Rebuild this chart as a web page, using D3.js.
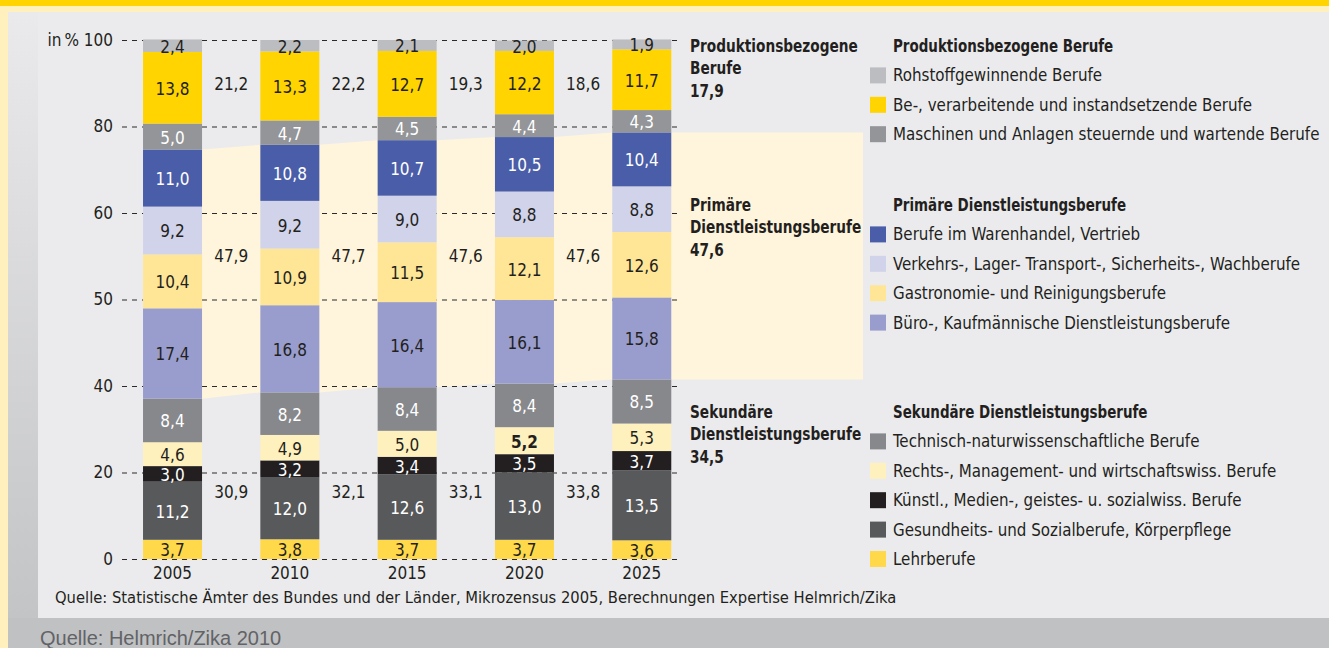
<!DOCTYPE html>
<html>
<head>
<meta charset="utf-8">
<script src="https://cdn.jsdelivr.net/npm/d3@7"></script>
<style>
  html, body { margin: 0; padding: 0; background: #fff; }
  svg { display: block; }
  text { font-family: "Liberation Sans Narrow", "DejaVu Sans Condensed", "Arial Narrow", sans-serif; fill: #231F20; }
</style>
</head>
<body>
<svg id="chart" width="1329" height="648"></svg>
<script>
// ---------------- DATA ----------------
const years = ["2005", "2010", "2015", "2020", "2025"];

// series, bottom to top of each bar
const seriesNames = [
  "Lehrberufe",
  "Gesundheits- und Sozialberufe, Körperpflege",
  "Künstl., Medien-, geistes- u. sozialwiss. Berufe",
  "Rechts-, Management- und wirtschaftswiss. Berufe",
  "Technisch-naturwissenschaftliche Berufe",
  "Büro-, Kaufmännische Dienstleistungsberufe",
  "Gastronomie- und Reinigungsberufe",
  "Verkehrs-, Lager- Transport-, Sicherheits-, Wachberufe",
  "Berufe im Warenhandel, Vertrieb",
  "Maschinen und Anlagen steuernde und wartende Berufe",
  "Be-, verarbeitende und instandsetzende Berufe",
  "Rohstoffgewinnende Berufe"
];
const seriesGroup = ["sek","sek","sek","sek","sek","prim","prim","prim","prim","prod","prod","prod"];
const seriesColors = ["#FFD94A","#58595B","#231F20","#FFF1BE","#87888C","#999DCD","#FFE697","#D0D3EA","#4A5DA8","#939598","#FFD400","#BCBDC0"];
const seriesTextColors = ["#231F20","#fff","#fff","#231F20","#fff","#231F20","#231F20","#231F20","#fff","#fff","#231F20","#231F20"];

const lehr        = [3.7, 3.8, 3.7, 3.7, 3.6];
const gesundheit  = [11.2, 12.0, 12.6, 13.0, 13.5];
const kuenstl     = [3.0, 3.2, 3.4, 3.5, 3.7];
const rechts      = [4.6, 4.9, 5.0, 5.2, 5.3];
const technisch   = [8.4, 8.2, 8.4, 8.4, 8.5];
const buero       = [17.4, 16.8, 16.4, 16.1, 15.8];
const gastro      = [10.4, 10.9, 11.5, 12.1, 12.6];
const verkehr     = [9.2, 9.2, 9.0, 8.8, 8.8];
const warenhandel = [11.0, 10.8, 10.7, 10.5, 10.4];
const maschinen   = [5.0, 4.7, 4.5, 4.4, 4.3];
const verarbeit   = [13.8, 13.3, 12.7, 12.2, 11.7];
const rohstoff    = [2.4, 2.2, 2.1, 2.0, 1.9];

// group totals as printed in the chart
const prodTotals = ["21,2", "22,2", "19,3", "18,6", "17,9"];
const primTotals = ["47,9", "47,7", "47,6", "47,6", "47,6"];
const sekTotals  = ["30,9", "32,1", "33,1", "33,8", "34,5"];

// tick labels (printed evenly spaced in the original)
const yTicks = [0, 20, 40, 50, 60, 80, 100];

const groupTitles = {
  prod: ["Produktionsbezogene", "Berufe"],
  prim: ["Primäre", "Dienstleistungsberufe"],
  sek:  ["Sekundäre", "Dienstleistungsberufe"]
};
const legendHeaders = {
  prod: "Produktionsbezogene Berufe",
  prim: "Primäre Dienstleistungsberufe",
  sek:  "Sekundäre Dienstleistungsberufe"
};
const sourceText = "Quelle: Statistische Ämter des Bundes und der Länder, Mikrozensus 2005, Berechnungen Expertise Helmrich/Zika";
const footerText = "Quelle: Helmrich/Zika 2010";

// ---------------- BUILD ----------------
const seriesValues = [lehr, gesundheit, kuenstl, rechts, technisch, buero, gastro, verkehr, warenhandel, maschinen, verarbeit, rohstoff];
const table = years.map((y, i) => {
  const row = { year: y };
  seriesNames.forEach((s, k) => row[s] = seriesValues[k][i]);
  return row;
});
const stacked = d3.stack().keys(seriesNames)(table);

const svg = d3.select("#chart");
const W = 1329, H = 648;

// background frame
const defs = svg.append("defs");
const grad = defs.append("linearGradient").attr("id", "leftGrad").attr("x1", 0).attr("y1", 0).attr("x2", 0).attr("y2", 1);
grad.append("stop").attr("offset", "0%").attr("stop-color", "#EAEAEC");
grad.append("stop").attr("offset", "100%").attr("stop-color", "#C3C4C6");

svg.append("rect").attr("x", 0).attr("y", 0).attr("width", W).attr("height", H).attr("fill", "#FFF0BE");
svg.append("rect").attr("x", 0).attr("y", 0).attr("width", W).attr("height", 6).attr("fill", "#FFD400");
svg.append("rect").attr("x", 8).attr("y", 12).attr("width", W - 8).attr("height", H - 12).attr("fill", "#C0C1C3");
svg.append("rect").attr("x", 8).attr("y", 12).attr("width", 30).attr("height", 606).attr("fill", "url(#leftGrad)");
svg.append("rect").attr("x", 38).attr("y", 12).attr("width", W - 38).attr("height", 606).attr("fill", "#EBEBED");

// scales
const x = d3.scaleBand().domain(years).range([113.7, 700.6]).paddingInner(0.497).paddingOuter(0.25);
const y = d3.scaleLinear().domain([0, 100]).range([559, 40]);
const yTickPos = d3.scalePoint().domain(yTicks).range([559, 40]);
const bw = x.bandwidth();

// primary band polygon (behind bars)
const sekTop = stacked[4];   // top of secondary group
const primTop = stacked[8];  // top of primary group
const bandRight = 863;
const topPts = [], botPts = [];
years.forEach((yr, i) => {
  const x0 = x(yr), x1 = x(yr) + bw;
  if (i > 0) { topPts.push([x0, y(primTop[i][1])]); botPts.push([x0, y(sekTop[i][1])]); }
  topPts.push([x1, y(primTop[i][1])]); botPts.push([x1, y(sekTop[i][1])]);
});
topPts.push([bandRight, y(primTop[years.length - 1][1])]);
botPts.push([bandRight, y(sekTop[years.length - 1][1])]);
const bandPts = topPts.concat(botPts.reverse());
svg.append("path")
  .attr("d", d3.line()(bandPts) + "Z")
  .attr("fill", "#FFF5DC");

// y axis with dashed gridlines
const gridX0 = 122, gridX1 = 678;
const yAxis = svg.append("g")
  .attr("transform", `translate(${gridX0},0)`)
  .call(d3.axisLeft(yTickPos).tickSize(0).tickPadding(9)
    .tickFormat(d => d === 100 ? "in\u2009% 100" : String(d)));
yAxis.select(".domain").remove();
yAxis.selectAll(".tick line")
  .attr("x2", gridX1 - gridX0)
  .attr("stroke", "#2a2a2a")
  .attr("stroke-width", 1.1)
  .attr("stroke-dasharray", "5,5");
yAxis.selectAll(".tick text")
  .attr("font-size", 17)
  .attr("fill", "#231F20")
  .style("font-family", '"Liberation Sans Narrow", "DejaVu Sans Condensed", sans-serif');

// bars
const layers = svg.append("g").selectAll("g").data(stacked).join("g")
  .attr("fill", (d, k) => seriesColors[k]);
layers.selectAll("rect").data(d => d).join("rect")
  .attr("x", d => x(d.data.year))
  .attr("width", bw)
  .attr("y", d => y(d[1]))
  .attr("height", d => y(d[0]) - y(d[1]));

// segment labels
const fmt = v => v.toFixed(1).replace(".", ",");
stacked.forEach((layer, k) => {
  svg.append("g").selectAll("text").data(layer).join("text")
    .attr("x", d => x(d.data.year) + bw / 2)
    .attr("y", d => y((d[0] + d[1]) / 2) + 1)
    .attr("text-anchor", "middle")
    .attr("dominant-baseline", "central")
    .attr("font-size", 17)
    .attr("font-weight", d => (k === 3 && d.data.year === "2020") ? "bold" : "normal")
    .style("fill", seriesTextColors[k])
    .text(d => fmt(d[1] - d[0]));
});

// group totals between bars
const totalRows = [
  { vals: prodTotals, yv: 91.5 },
  { vals: primTotals, yv: 58.4 },
  { vals: sekTotals,  yv: 12.9 }
];
totalRows.forEach(row => {
  years.slice(0, -1).forEach((yr, i) => {
    const xm = (x(yr) + bw + x(years[i + 1])) / 2;
    svg.append("text")
      .attr("x", xm).attr("y", y(row.yv))
      .attr("text-anchor", "middle")
      .attr("dominant-baseline", "central")
      .attr("font-size", 17)
      .text(row.vals[i]);
  });
});

// helper: bold condensed text
function boldText(tx, ty, str, size, sx) {
  svg.append("text")
    .attr("transform", `translate(${tx},${ty}) scale(${sx},1)`)
    .attr("dominant-baseline", "central")
    .attr("font-size", size)
    .attr("font-weight", "bold")
    .text(str);
}

// group titles at the right of the last bar
const titleX = 690;
const titleTop = { prod: 46, prim: 205, sek: 412 };
const lineH = 22.5;
const lastTotals = { prod: prodTotals, prim: primTotals, sek: sekTotals };
Object.keys(groupTitles).forEach(key => {
  const lines = groupTitles[key].concat([lastTotals[key][years.length - 1]]);
  lines.forEach((t, j) => boldText(titleX, titleTop[key] + j * lineH, t, 18, 0.845));
});

// x axis labels
svg.append("g").selectAll("text").data(years).join("text")
  .attr("x", d => x(d) + bw / 2)
  .attr("y", 573)
  .attr("text-anchor", "middle")
  .attr("dominant-baseline", "central")
  .attr("font-size", 17)
  .text(d => d);

// legend
const legendX = 870;
const legendHead = { prod: 46, prim: 205, sek: 412 };
const rowStep = 29.4;
["prod", "prim", "sek"].forEach(key => {
  boldText(legendX + 23, legendHead[key], legendHeaders[key], 17, 0.88);
  const idx = seriesNames.map((s, k) => k).filter(k => seriesGroup[k] === key).reverse();
  idx.forEach((k, j) => {
    const cy = legendHead[key] + (j + 1) * rowStep;
    svg.append("rect")
      .attr("x", legendX).attr("y", cy - 8)
      .attr("width", 16).attr("height", 16)
      .attr("fill", seriesColors[k]);
    svg.append("text")
      .attr("x", legendX + 23).attr("y", cy)
      .attr("dominant-baseline", "central")
      .attr("font-size", 16.8)
      .text(seriesNames[k]);
  });
});

// source lines
svg.append("text")
  .attr("x", 55).attr("y", 597)
  .attr("dominant-baseline", "central")
  .attr("font-size", 16.4)
  .text(sourceText);
svg.append("text")
  .attr("x", 40).attr("y", 638)
  .attr("dominant-baseline", "central")
  .attr("font-size", 20)
  .style("font-family", '"Liberation Sans", Arial, sans-serif')
  .style("fill", "#626366")
  .text(footerText);
</script>
</body>
</html>
